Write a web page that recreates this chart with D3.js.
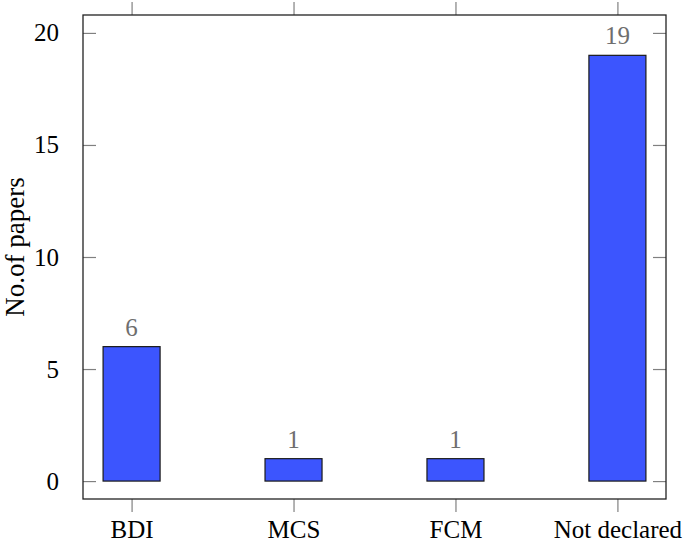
<!DOCTYPE html>
<html>
<head>
<meta charset="utf-8">
<script src="https://cdn.jsdelivr.net/npm/d3@7"></script>
<style>
  body { margin: 0; background: #fff; }
</style>
</head>
<body>
<div id="chart"></div>
<script>
var categories = ["BDI", "MCS", "FCM", "Not declared"];
var papers = [6, 1, 1, 19];
var yTicks = [0, 5, 10, 15, 20];

var W = 685, H = 546;
var SERIF = "'Liberation Serif', 'Times New Roman', serif";
//plot frame edges (window.top is reserved, hence the prefixes)
var plotL = 83, plotR = 666, plotT = 15, plotB = 499;

var svg = d3.select("#chart").append("svg")
  .attr("width", W)
  .attr("height", H);

//x runs over category index, with pgfplots-like enlarge of limits
var x = d3.scaleLinear().domain([-0.3, categories.length - 1 + 0.3]).range([plotL, plotR]);
var y = d3.scaleLinear().domain([-0.8, 20.8]).range([plotB, plotT]);
var halfBar = 0.176;

//y ticks, inward on both sides
var yAxisL = d3.axisLeft(y).tickValues(yTicks).tickSizeInner(-13).tickSizeOuter(0).tickPadding(24);
var gy = svg.append("g").attr("transform", "translate(" + plotL + ",0)").call(yAxisL);
gy.select(".domain").remove();
gy.selectAll(".tick line").attr("stroke", "#808080").attr("stroke-width", 1.2);
gy.selectAll(".tick text").attr("fill", "#000")
  .style("font-size", "25px").style("font-family", SERIF);

var gyr = svg.append("g").attr("transform", "translate(" + plotR + ",0)")
  .call(d3.axisRight(y).tickValues(yTicks).tickSizeInner(-13).tickSizeOuter(0).tickFormat(""));
gyr.select(".domain").remove();
gyr.selectAll(".tick line").attr("stroke", "#808080").attr("stroke-width", 1.2);

//x ticks, outward on top and bottom
var idx = d3.range(categories.length);
var gx = svg.append("g").attr("transform", "translate(0," + plotB + ")")
  .call(d3.axisBottom(x).tickValues(idx).tickSizeInner(13).tickSizeOuter(0).tickPadding(8)
    .tickFormat(function(i){ return categories[i]; }));
gx.select(".domain").remove();
gx.selectAll(".tick line").attr("stroke", "#808080").attr("stroke-width", 1.2);
gx.selectAll(".tick text").attr("fill", "#000")
  .style("font-size", "25px").style("font-family", SERIF);

var gxt = svg.append("g").attr("transform", "translate(0," + plotT + ")")
  .call(d3.axisTop(x).tickValues(idx).tickSizeInner(13).tickSizeOuter(0).tickFormat(""));
gxt.select(".domain").remove();
gxt.selectAll(".tick line").attr("stroke", "#808080").attr("stroke-width", 1.2);

//bars
svg.selectAll("rect.bar")
  .data(papers)
  .enter().append("rect")
  .attr("class", "bar")
  .attr("x", function(d, i){ return x(i - halfBar); })
  .attr("width", function(d, i){ return x(i + halfBar) - x(i - halfBar); })
  .attr("y", function(d){ return y(d); })
  .attr("height", function(d){ return y(0) - y(d); })
  .attr("fill", "#3c55fe")
  .attr("stroke", "#1a1a1a")
  .attr("stroke-width", 1.2);

//value labels
svg.selectAll("text.val")
  .data(papers)
  .enter().append("text")
  .attr("class", "val")
  .attr("x", function(d, i){ return x(i); })
  .attr("y", function(d){ return y(d) - 11; })
  .attr("text-anchor", "middle")
  .attr("fill", "#6e6e6e")
  .style("font-size", "25px").style("font-family", SERIF)
  .text(function(d){ return d; });

//frame
svg.append("rect")
  .attr("x", plotL).attr("y", plotT)
  .attr("width", plotR - plotL).attr("height", plotB - plotT)
  .attr("fill", "none")
  .attr("stroke", "#222")
  .attr("stroke-width", 1.3);

//y label
svg.append("text")
  .attr("transform", "translate(24,247) rotate(-90)")
  .attr("text-anchor", "middle")
  .attr("fill", "#000")
  .style("font-size", "27px").style("font-family", SERIF)
  .text("No.of papers");
</script>
</body>
</html>
